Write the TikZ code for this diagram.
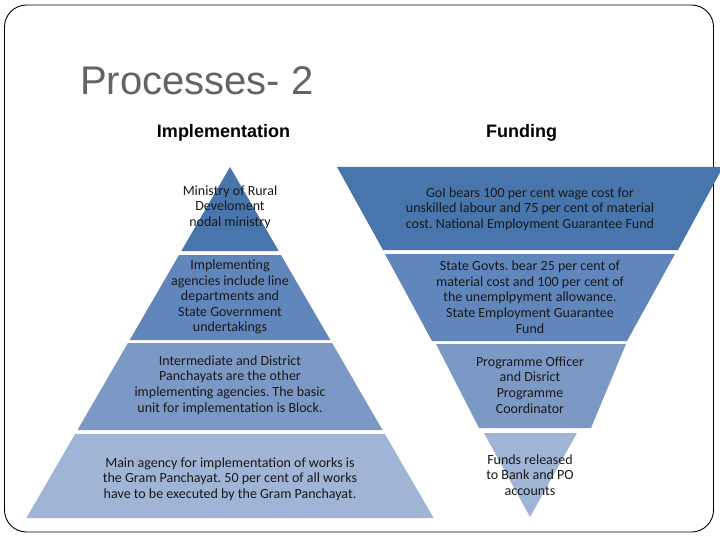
\documentclass[tikz,border=0pt]{standalone}
\usepackage{fontspec}
\setmainfont{Carlito}
\newfontfamily\arialf{Liberation Sans}
\definecolor{cA}{RGB}{72,117,172}
\definecolor{cB}{RGB}{96,134,188}
\definecolor{cC}{RGB}{124,152,196}
\definecolor{cD}{RGB}{160,180,213}
\definecolor{txtc}{RGB}{25,25,25}
\definecolor{titlec}{RGB}{100,100,100}
\frenchspacing
\begin{document}
\begin{tikzpicture}[x=1pt,y=-1pt,
  txt/.style={align=center, text=txtc, font=\fontsize{14}{15.6}\selectfont, inner sep=0pt},
  head/.style={anchor=base, inner sep=0pt, font=\arialf\bfseries\fontsize{18}{20}\selectfont}]
\useasboundingbox (0,0) rectangle (720,540);
\clip (0,0) rectangle (720,540);
% frame
\draw[rounded corners=22pt, line width=0.9pt] (4.5,5) rectangle (713.5,532);
% title and headers
\node[anchor=base west, text=titlec, font=\arialf\fontsize{40}{48}\selectfont, inner sep=0pt] (title) at (80,95) {Processes- 2};
\node[head] (himpl) at (223.5,138) {Implementation};
\node[head] (hfund) at (521.5,138) {Funding};
% left pyramid
\fill[cA] (230,167) -- (278.7,251) -- (181.3,251) -- cycle;
\fill[cB] (179,255) -- (281,255) -- (330.3,340) -- (129.7,340) -- cycle;
\fill[cC] (127.9,343) -- (332.1,343) -- (382.5,430) -- (77.5,430) -- cycle;
\fill[cD] (75.1,434) -- (384.9,434) -- (433.6,518) -- (26.4,518) -- cycle;
% right inverted pyramid
\fill[cA] (337,167) -- (723,167) -- (678,250) -- (383,250) -- cycle;
\fill[cB] (385,254) -- (675,254) -- (627,341) -- (432,341) -- cycle;
\fill[cC] (436,344) -- (626,344) -- (591,428) -- (479,428) -- cycle;
\fill[cD] (484,433) -- (577,433) -- (530,517) -- cycle;
% texts left
\node[txt] (l1) at (230,207) {Ministry of Rural\\Develoment\\nodal ministry};
\node[txt] (l2) at (230,297) {Implementing\\agencies include line\\departments and\\State Government\\undertakings};
\node[txt] (l3) at (230,385) {Intermediate and District\\Panchayats are the other\\implementing agencies. The basic\\unit for implementation is Block.};
\node[txt] (l4) at (230,479) {Main agency for implementation of works is\\the Gram Panchayat. 50 per cent of all works\\have to be executed by the Gram Panchayat.};
% texts right
\node[txt] (r1) at (530,209) {GoI bears 100 per cent wage cost for\\unskilled labour and 75 per cent of material\\cost. National Employment Guarantee Fund};
\node[txt] (r2) at (530,297) {State Govts. bear 25 per cent of\\material cost and 100 per cent of\\the unemplpyment allowance.\\State Employment Guarantee\\Fund};
\node[txt] (r3) at (530,385) {Programme Officer\\and Disrict\\Programme\\Coordinator};
\node[txt] (r4) at (530,475) {Funds released\\to Bank and PO\\accounts};
\end{tikzpicture}
\end{document}
